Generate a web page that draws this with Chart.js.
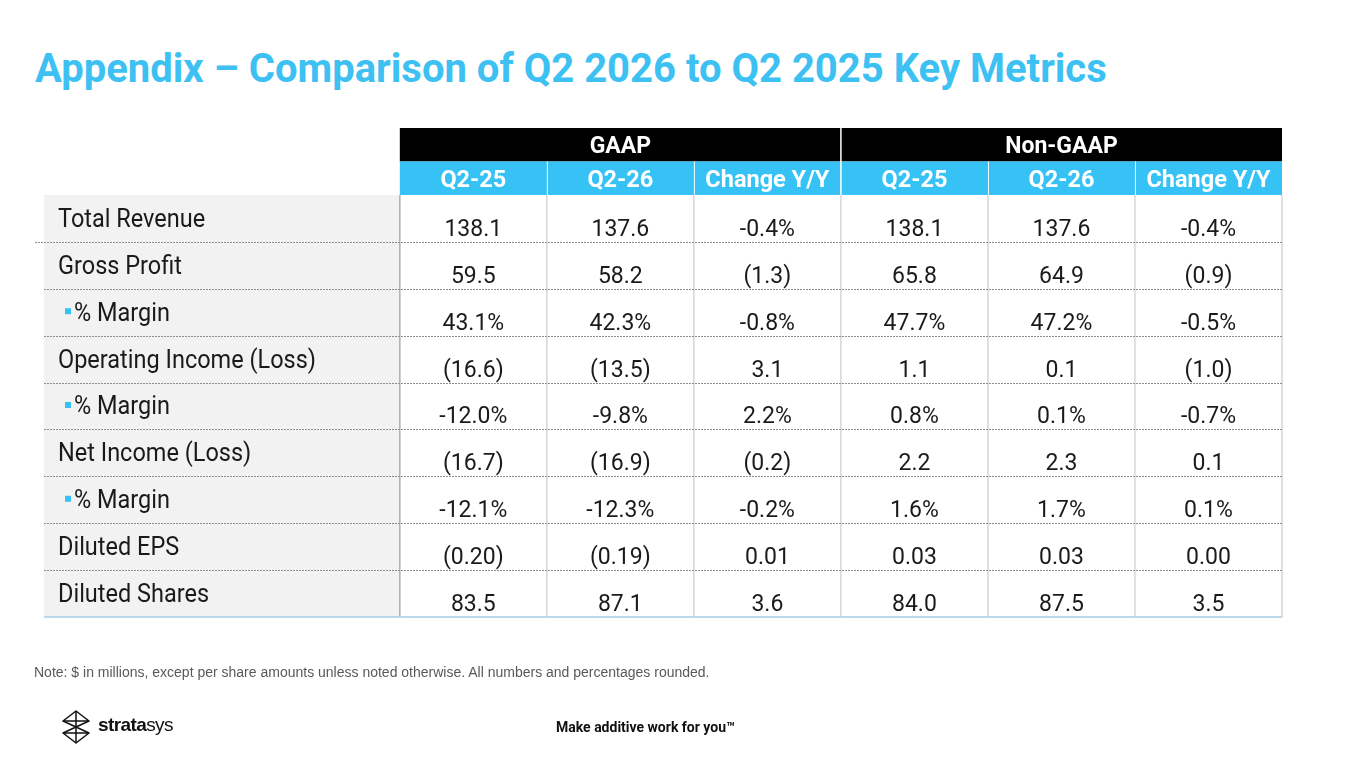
<!DOCTYPE html>
<html>
<head>
<meta charset="utf-8">
<script src="https://cdn.jsdelivr.net/npm/chart.js@4.4.1/dist/chart.umd.min.js"></script>
<style>
  html, body { margin: 0; padding: 0; background: #fff; }
  body { width: 1365px; height: 768px; position: relative; overflow: hidden; font-family: Roboto, sans-serif; }
  #title { position: absolute; left: 35px; top: 45px; margin: 0; font: 700 40px Roboto; color: #3DC1F3; white-space: nowrap; }
  #wrap { position: absolute; left: 0; top: 0; width: 1365px; height: 768px; }
  #note { position: absolute; left: 34px; top: 664px; font: 14px "Liberation Sans", Arial, sans-serif; color: #595959; white-space: nowrap; }
  #tag { position: absolute; left: 556px; top: 719px; font: 700 14px Roboto; color: #111; white-space: nowrap; }
  #logo { position: absolute; left: 62px; top: 710px; }
</style>
</head>
<body>
<h1 id="title">Appendix – Comparison of Q2 2026 to Q2 2025 Key Metrics</h1>
<div id="wrap"><canvas id="table"></canvas></div>
<div id="note">Note: $ in millions, except per share amounts unless noted otherwise. All numbers and percentages rounded.</div>
<svg id="logo" width="120" height="36" viewBox="0 0 120 36">
  <g fill="none" stroke="#111" stroke-width="1.5" stroke-linejoin="round">
    <path d="M14 1 L1 11 L27 11 Z"/>
    <path d="M1 11 L27 23 M27 11 L1 23"/>
    <path d="M1 23 L27 23 L14 33 Z"/>
    <path d="M14 1 L14 33"/>
  </g>
  <text x="36" y="21" font-family="Liberation Sans, Arial" font-size="19" letter-spacing="-0.6" fill="#111"><tspan font-weight="bold">strata</tspan><tspan>sys</tspan></text>
</svg>
<div id="tag">Make additive work for you™</div>

<script>
// table content
const groupLabels = ["GAAP", "Non-GAAP"];
const columnLabels = ["Q2-25", "Q2-26", "Change Y/Y", "Q2-25", "Q2-26", "Change Y/Y"];
const rowLabels = ["Total Revenue", "Gross Profit", "% Margin", "Operating Income (Loss)", "% Margin",
  "Net Income (Loss)", "% Margin", "Diluted EPS", "Diluted Shares"];
const marginRows = [false, false, true, false, true, false, true, false, false];

const gaapQ225 = ["138.1", "59.5", "43.1%", "(16.6)", "-12.0%", "(16.7)", "-12.1%", "(0.20)", "83.5"];
const gaapQ226 = ["137.6", "58.2", "42.3%", "(13.5)", "-9.8%", "(16.9)", "-12.3%", "(0.19)", "87.1"];
const gaapChange = ["-0.4%", "(1.3)", "-0.8%", "3.1", "2.2%", "(0.2)", "-0.2%", "0.01", "3.6"];
const nonGaapQ225 = ["138.1", "65.8", "47.7%", "1.1", "0.8%", "2.2", "1.6%", "0.03", "84.0"];
const nonGaapQ226 = ["137.6", "64.9", "47.2%", "0.1", "0.1%", "2.3", "1.7%", "0.03", "87.5"];
const nonGaapChange = ["-0.4%", "(0.9)", "-0.5%", "(1.0)", "-0.7%", "0.1", "0.1%", "0.00", "3.5"];

const columns = [gaapQ225, gaapQ226, gaapChange, nonGaapQ225, nonGaapQ226, nonGaapChange];

// layout, in scale units (one data column = 1, one body row = 1)
const LABEL_COL = 2.42;
const HEAD_ROW = 0.714;
const BLUE = "#37C2F5";
const INK = "#1A1A1A";

// text slightly taller than wide, like the slide
function tallText(ctx, s, x, y, k) {
  ctx.save();
  ctx.translate(x, y);
  ctx.scale(1, k);
  ctx.fillText(s, 0, 0);
  ctx.restore();
}

const tablePlugin = {
  id: "tableCells",
  afterDatasetsDraw(chart) {
    const { ctx, scales: { x, y } } = chart;
    const X = (v) => x.getPixelForValue(v);
    const Y = (v) => y.getPixelForValue(v);
    const nRows = rowLabels.length;
    const nCols = columns.length;
    ctx.save();

    // label column background
    ctx.fillStyle = "#F2F2F2";
    ctx.fillRect(X(-LABEL_COL), Y(0), X(0) - X(-LABEL_COL), Y(nRows) - Y(0));

    // group header (black) and column header (blue)
    ctx.fillStyle = "#000";
    ctx.fillRect(X(0), Y(-2 * HEAD_ROW), X(nCols) - X(0), Y(-HEAD_ROW) - Y(-2 * HEAD_ROW));
    ctx.fillStyle = BLUE;
    ctx.fillRect(X(0), Y(-HEAD_ROW), X(nCols) - X(0), Y(0) - Y(-HEAD_ROW));

    ctx.strokeStyle = "#fff";
    ctx.lineWidth = 1.5;
    ctx.beginPath();
    ctx.moveTo(X(3), Y(-2 * HEAD_ROW));
    ctx.lineTo(X(3), Y(0));
    ctx.stroke();
    ctx.lineWidth = 1;
    for (let c = 1; c < nCols; c++) {
      if (c === 3) continue;
      ctx.beginPath();
      ctx.moveTo(X(c) + 0.5, Y(-HEAD_ROW));
      ctx.lineTo(X(c) + 0.5, Y(0));
      ctx.stroke();
    }

    ctx.fillStyle = "#fff";
    ctx.textAlign = "center";
    ctx.textBaseline = "alphabetic";
    ctx.font = "700 23px Roboto";
    groupLabels.forEach((g, i) => {
      ctx.fillText(g, X(i * 3 + 1.5), Y(-1.5 * HEAD_ROW) + 8);
    });
    ctx.font = "700 23.5px Roboto";
    columnLabels.forEach((lab, i) => {
      ctx.fillText(lab, X(i + 0.5), Y(-0.5 * HEAD_ROW) + 8.5);
    });

    // vertical column lines in body
    ctx.strokeStyle = "#D0D0D0";
    ctx.lineWidth = 1.3;
    for (let c = 1; c <= nCols; c++) {
      ctx.beginPath();
      ctx.moveTo(X(c), Y(0));
      ctx.lineTo(X(c), Y(nRows));
      ctx.stroke();
    }
    ctx.strokeStyle = "#B4B4B4";
    ctx.lineWidth = 1.6;
    ctx.beginPath();
    ctx.moveTo(X(0), Y(0));
    ctx.lineTo(X(0), Y(nRows));
    ctx.stroke();

    // dashed row separators
    ctx.strokeStyle = "#8E8E8E";
    ctx.lineWidth = 1;
    ctx.setLineDash([2, 1]);
    for (let r = 1; r < nRows; r++) {
      const yy = Math.round(Y(r)) + 0.5;
      ctx.beginPath();
      ctx.moveTo(X(-LABEL_COL) - (r === 1 ? 9 : 0), yy);
      ctx.lineTo(X(nCols), yy);
      ctx.stroke();
    }
    ctx.setLineDash([]);
    ctx.strokeStyle = "#A8CDE6";
    ctx.lineWidth = 1.5;
    ctx.beginPath();
    ctx.moveTo(X(-LABEL_COL), Y(nRows));
    ctx.lineTo(X(nCols), Y(nRows));
    ctx.stroke();

    // row labels
    ctx.textAlign = "left";
    ctx.font = "23.5px Roboto";
    rowLabels.forEach((lab, r) => {
      const cy = Y(r + 0.5);
      if (marginRows[r]) {
        ctx.fillStyle = BLUE;
        ctx.fillRect(X(-LABEL_COL) + 21, cy - 4, 6, 6);
        ctx.fillStyle = INK;
        tallText(ctx, lab, X(-LABEL_COL) + 30, cy + 8.5, 1.09);
      } else {
        ctx.fillStyle = INK;
        tallText(ctx, lab, X(-LABEL_COL) + 14, cy + 8.5, 1.09);
      }
    });

    // values, placed at each dataset point
    ctx.textAlign = "center";
    ctx.fillStyle = INK;
    ctx.font = "23px Roboto";
    chart.data.datasets.forEach((ds, i) => {
      chart.getDatasetMeta(i).data.forEach((pt, r) => {
        tallText(ctx, ds.data[r].text, pt.x, pt.y + 17.5, 1.08);
      });
    });

    ctx.restore();
  },
};

new Chart(document.getElementById("table"), {
  type: "scatter",
  data: {
    datasets: columns.map((col, i) => ({
      label: columnLabels[i],
      data: col.map((v, r) => ({ x: i + 0.5, y: r + 0.5, text: v })),
      pointRadius: 0,
    })),
  },
  options: {
    responsive: true,
    maintainAspectRatio: false,
    animation: false,
    events: [],
    layout: { padding: { left: 44, right: 83, top: 128, bottom: 151 } },
    scales: {
      x: { type: "linear", min: -LABEL_COL, max: 6, display: false },
      y: { type: "linear", min: -2 * HEAD_ROW, max: 9, reverse: true, display: false },
    },
    plugins: { legend: { display: false }, tooltip: { enabled: false } },
  },
  plugins: [tablePlugin],
});
</script>
</body>
</html>
